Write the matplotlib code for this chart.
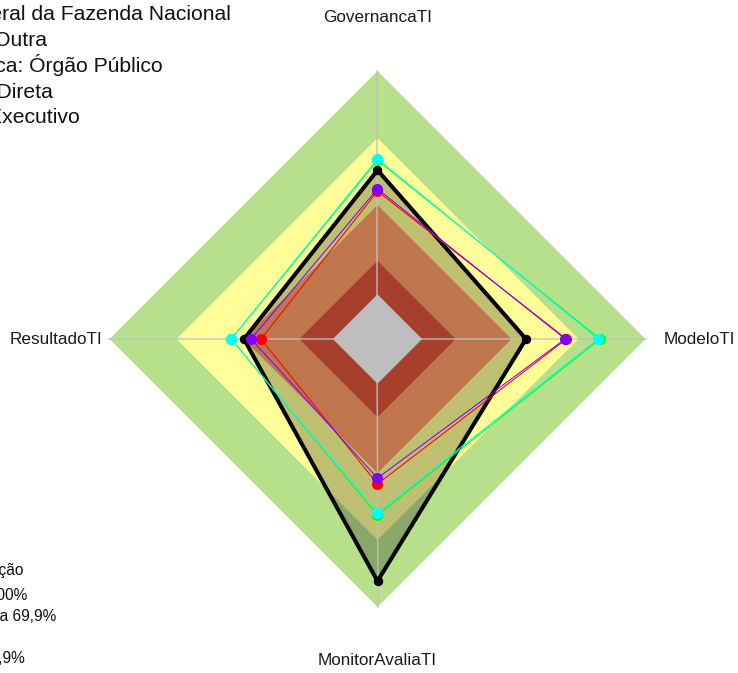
import numpy as np
import matplotlib
matplotlib.use("Agg")
import matplotlib.pyplot as plt
from matplotlib.patches import Polygon

plt.rcParams['font.family'] = ['Liberation Sans', 'DejaVu Sans']

# ---------------- data ----------------
categories = ["GovernancaTI", "ModeloTI", "MonitorAvaliaTI", "ResultadoTI"]

# band limits (percent) : 0-14,9 / 15-39,9 / 40-69,9 / 70-100
band_limits = [0, 15, 40, 70, 100]
band_colors = ["#A6402C", "#BF764D", "#FFFF99", "#B7E08B"]
center_color = "#BEBEBE"

series_names = ["Organização", "Série 2", "Série 3", "Série 4", "Série 5"]
series_black = [55.6, 46.5, 88.4, 39.8]
series_red = [46.2, 64.6, 44.9, 32.2]
series_purple = [47.2, 64.0, 42.3, 36.6]
series_lime = [60.0, 79.6, 58.8, 45.5]
series_cyan = [60.6, 78.8, 57.9, 45.6]

header_lines = [
    "Procuradoria-Geral da Fazenda Nacional",
    "Segmento: Outra",
    "Natureza Jurídica: Órgão Público",
    "Administração: Direta",
    "Poder: Executivo",
]
legend_title = "Classificação"
legend_lines = [
    "Aprimorado: 70 a 100%",
    "Intermediário: 40 a 69,9%",
    "Básico",
    "Inicial: 0 a 14,9%",
]

# ---------------- geometry ----------------
W, H = 738, 673
R = 268.0
cx, cy = 377.5, 334.0  # from bottom-left, in pixels
hole = 1.0 / 6.0       # radarchart centre offset

fig = plt.figure(figsize=(W / 100, H / 100), dpi=100)
ax = fig.add_axes([0, 0, 1, 1])
ax.set_xlim(-cx / R, (W - cx) / R)
ax.set_ylim(-cy / R, (H - cy) / R)
ax.axis('off')

theta = np.deg2rad([0, 90, 180, 270])  # clockwise from top


def rad(v):
    return hole + (1 - hole) * np.asarray(v, dtype=float) / 100.0


def pts(r):
    r = np.broadcast_to(np.asarray(r, dtype=float), theta.shape)
    return np.column_stack([r * np.sin(theta), r * np.cos(theta)])


# background bands (outer first)
ax.add_patch(Polygon(pts(rad(band_limits[4])), closed=True, fc=band_colors[3], ec='none', zorder=1))
ax.add_patch(Polygon(pts(rad(band_limits[3])), closed=True, fc=band_colors[2], ec='none', zorder=1.1))
# semi transparent fill of main series
ax.add_patch(Polygon(pts(rad(series_black)), closed=True, fc=(0, 0, 0, 0.25), ec='none', zorder=1.2))
ax.add_patch(Polygon(pts(rad(band_limits[2])), closed=True, fc=band_colors[1], ec='none', zorder=1.3))
ax.add_patch(Polygon(pts(rad(band_limits[1])), closed=True, fc=band_colors[0], ec='none', zorder=1.4))
ax.add_patch(Polygon(pts(hole), closed=True, fc=center_color, ec='none', zorder=1.5))

# axis lines
for t in theta:
    ax.plot([0, np.sin(t)], [0, np.cos(t)], color='#C0C0C0', alpha=0.8, lw=1.2, zorder=2)


def draw(vals, color, lw, ms, z):
    p = pts(rad(vals))
    p = np.vstack([p, p[:1]])
    ax.plot(p[:, 0], p[:, 1], color=color, lw=lw, zorder=z, solid_joinstyle='miter')
    ax.plot(p[:-1, 0], p[:-1, 1], 'o', color=color, ms=ms, mec='none', zorder=z + 0.5)


draw(series_black, 'black', 2.9, 6.8, 3)
draw(series_red, '#FF0000', 0.75, 8.0, 4)
draw(series_purple, '#8000FF', 0.75, 8.0, 5)
draw(series_lime, '#00FF00', 0.75, 8.0, 6)
draw(series_cyan, '#00FFFF', 0.75, 8.0, 7)

# axis labels
lab_fs = 12.3
for name, t in zip(categories, theta):
    ax.text(1.2 * np.sin(t), 1.2 * np.cos(t), name, ha='center', va='center',
            fontsize=lab_fs, color='#1a1a1a', zorder=10)

# header text (top-left, partially outside the canvas)
header_right = [231, 46.5, 163, 53, 80]
header_base = [19.5, 45.5, 71.5, 97.5, 123]
for s, xr, yb in zip(header_lines, header_right, header_base):
    fig.text(xr / W, 1 - yb / H, s, ha='right', va='baseline', fontsize=15.2, color='#111111')

# legend text (bottom-left, partially outside)
fig.text(23.5 / W, 1 - 575 / H, legend_title, ha='right', va='baseline', fontsize=11.2, color='#111111')
leg_right = [27, 56, -6, 25]
leg_base = [600, 621, 642, 663]
for s, xr, yb in zip(legend_lines, leg_right, leg_base):
    fig.text(xr / W, 1 - yb / H, s, ha='right', va='baseline', fontsize=11.2, color='#111111')

fig.savefig("out.png", dpi=100)
